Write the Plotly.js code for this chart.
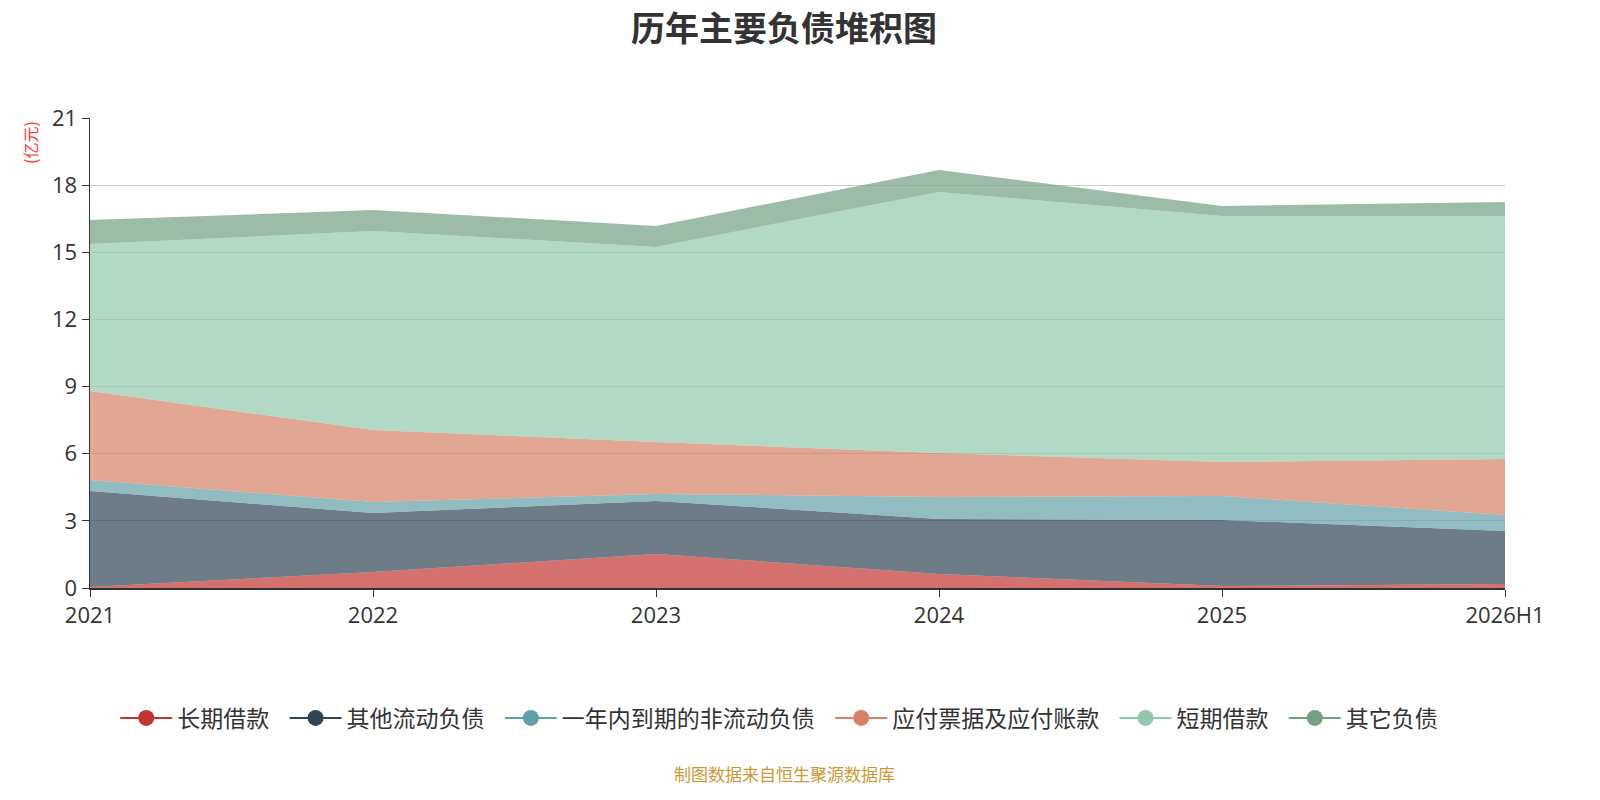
<!DOCTYPE html>
<html>
<head>
<meta charset="utf-8">
<script src="https://cdn.plot.ly/plotly-3.0.1.min.js"></script>
<style>
  html, body { margin: 0; padding: 0; background: #fff; }
  #chart { width: 1600px; height: 800px; }
</style>
</head>
<body>
<div id="chart"></div>
<script>
// categories and series (亿元)
var years = ['2021', '2022', '2023', '2024', '2025', '2026H1'];

var changqi   = [0.05, 0.71, 1.52, 0.63, 0.09, 0.18];   // 长期借款
var qitaLiudong = [4.28, 2.64, 2.37, 2.45, 2.95, 2.37]; // 其他流动负债
var yinian    = [0.50, 0.49, 0.31, 0.99, 1.07, 0.71];   // 一年内到期的非流动负债
var yingfu    = [3.97, 3.22, 2.32, 1.96, 1.52, 2.50];   // 应付票据及应付账款
var duanqi    = [6.57, 8.89, 8.72, 11.66, 10.99, 10.86]; // 短期借款
var qita      = [1.07, 0.94, 0.94, 0.99, 0.45, 0.63];   // 其它负债

var names  = ['长期借款', '其他流动负债', '一年内到期的非流动负债', '应付票据及应付账款', '短期借款', '其它负债'];
var colors = ['#c23531', '#2f4554', '#61a0a8', '#d48265', '#91c7ae', '#749f83'];
var series = [changqi, qitaLiudong, yinian, yingfu, duanqi, qita];

function rgba(hex, a) {
  var r = parseInt(hex.substr(1, 2), 16);
  var g = parseInt(hex.substr(3, 2), 16);
  var b = parseInt(hex.substr(5, 2), 16);
  return 'rgba(' + r + ',' + g + ',' + b + ',' + a + ')';
}

var traces = [];
// stacked areas
for (var i = 0; i < series.length; i++) {
  traces.push({
    x: years,
    y: series[i],
    name: names[i],
    type: 'scatter',
    mode: 'lines',
    stackgroup: 'one',
    line: { width: 0, color: colors[i] },
    fillcolor: rgba(colors[i], 0.7),
    showlegend: false,
    hoverinfo: 'x+y+name'
  });
}
// legend-only traces (line + circle like the original)
for (var j = 0; j < series.length; j++) {
  traces.push({
    x: [null],
    y: [null],
    // trailing spaces give the wider gaps of the original legend
    name: names[j] + '\u00a0\u00a0',
    type: 'scatter',
    mode: 'lines+markers',
    line: { width: 2, color: colors[j] },
    marker: { size: 16, color: colors[j] },
    showlegend: true
  });
}

var layout = {
  width: 1600,
  height: 800,
  margin: { l: 90, r: 95, t: 118, b: 212 },
  paper_bgcolor: '#fff',
  plot_bgcolor: '#fff',
  font: { family: 'Open Sans, Noto Sans CJK SC, sans-serif', color: '#333' },
  title: {
    text: '<b>历年主要负债堆积图</b>',
    font: { size: 34, color: '#333', family: 'Noto Sans CJK SC, sans-serif' },
    x: 784 / 1600,
    xanchor: 'center',
    y: 1 - 29 / 800,
    yanchor: 'middle'
  },
  xaxis: {
    type: 'category',
    range: [0, 5],
    showgrid: false,
    showline: true,
    linecolor: '#333',
    linewidth: 1.5,
    ticks: 'outside',
    ticklen: 7,
    tickcolor: '#333',
    tickfont: { size: 22, color: '#333' },
    zeroline: false,
    fixedrange: true
  },
  yaxis: {
    range: [0, 21],
    dtick: 3,
    tick0: 0,
    showgrid: true,
    gridcolor: '#cccccc',
    gridwidth: 1.2,
    showline: true,
    linecolor: '#333',
    linewidth: 1.5,
    ticks: 'outside',
    ticklen: 7,
    tickcolor: '#333',
    tickfont: { size: 22, color: '#333' },
    zeroline: false,
    fixedrange: true
  },
  legend: {
    orientation: 'h',
    x: 785 / 1600,
    xref: 'paper',
    xanchor: 'center',
    y: -130 / 470,
    yanchor: 'middle',
    font: { size: 23, color: '#333', family: 'Noto Sans CJK SC, sans-serif' },
    itemwidth: 52,
    traceorder: 'normal'
  },
  annotations: [
    {
      text: '(亿元)',
      xref: 'paper', yref: 'paper',
      x: -60 / 1415, y: 1 - 24 / 470,
      xanchor: 'center', yanchor: 'middle',
      textangle: -90,
      showarrow: false,
      font: { size: 16, color: '#ff3333', family: 'Noto Sans CJK SC, sans-serif' }
    },
    {
      text: '制图数据来自恒生聚源数据库',
      xref: 'paper', yref: 'paper',
      x: (784 - 90) / 1415, y: -(773 - 588) / 470,
      xanchor: 'center', yanchor: 'middle',
      showarrow: false,
      font: { size: 17, color: '#cc9933', family: 'Noto Sans CJK SC, sans-serif' }
    }
  ]
};

Plotly.newPlot('chart', traces, layout, { displayModeBar: false, staticPlot: true });
</script>
</body>
</html>
